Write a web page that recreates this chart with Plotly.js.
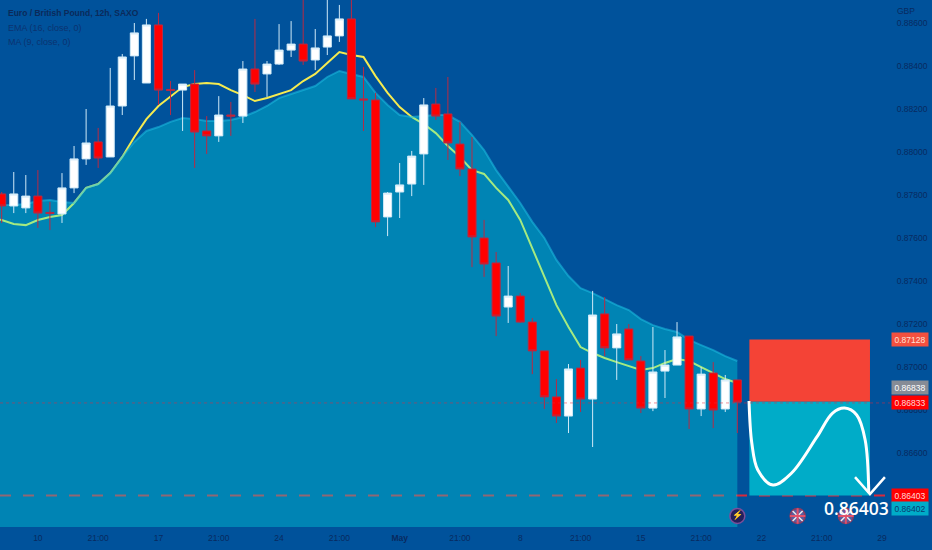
<!DOCTYPE html>
<html>
<head>
<meta charset="utf-8">
<script src="https://cdn.plot.ly/plotly-3.0.1.min.js"></script>
<style>body { margin: 0; background: #00529b; }</style>
</head>
<body>
<div id="chart"></div>
<script>
// 12h bars
var bars = [0,1,2,3,4,5,6,7,8,9,10,11,12,13,14,15,16,17,18,19,20,21,22,23,24,25,26,27,28,29,30,
  31,32,33,34,35,36,37,38,39,40,41,42,43,44,45,46,47,48,49,50,51,52,53,54,55,56,57,58,59,60,61];
var opens = [.87805,.87749,.87740,.87795,.87719,.87712,.87833,.87968,.88047,.87977,
  .88214,.88447,.88321,.88591,.88291,.88288,.88316,.88098,.88075,.88172,
  .88167,.88386,.88363,.88409,.88474,.88502,.88428,.88488,.88540,.88619,
  .88247,.88242,.87698,.87814,.87851,.87991,.88223,.88177,.88037,.87921,
  .87600,.87484,.87279,.87330,.87209,.87075,.86861,.86772,.86995,.86851,
  .87247,.87089,.87177,.87028,.86809,.86981,.87009,.87144,.86805,.86972,
  .86805,.86940];
var closes = [.87749,.87805,.87795,.87716,.87714,.87833,.87968,.88042,.87972,.88214,
  .88442,.88554,.88591,.88288,.88286,.88316,.88093,.88075,.88172,.88167,
  .88386,.88316,.88409,.88474,.88502,.88423,.88484,.88540,.88619,.88247,
  .88242,.87675,.87809,.87847,.87981,.88219,.88167,.88042,.87921,.87605,
  .87479,.87237,.87330,.87209,.87075,.86861,.86772,.86991,.86851,.87242,
  .87089,.87154,.87033,.86809,.86977,.87009,.87140,.86805,.86967,.86800,
  .86940,.86837];
var highs = [.87814,.87907,.87893,.87916,.87768,.87902,.88028,.88200,.88112,.88391,
  .88456,.88600,.88619,.88647,.88330,.88316,.88381,.88167,.88260,.88233,
  .88423,.88619,.88423,.88595,.88609,.88730,.88572,.88721,.88684,.88730,
  .88395,.88275,.87814,.87949,.88005,.88251,.88298,.88349,.88140,.88070,
  .87684,.87535,.87470,.87344,.87228,.87075,.86944,.87014,.87033,.87354,
  .87326,.87200,.87200,.87051,.87186,.87079,.87209,.87144,.87000,.87023,
  .86963,.86940];
var lows = [.87670,.87716,.87716,.87647,.87637,.87670,.87809,.87940,.87926,.87977,
  .88172,.88335,.88321,.88219,.88172,.88098,.87926,.87991,.88047,.88075,
  .88135,.88279,.88256,.88405,.88442,.88405,.88381,.88451,.88512,.88247,
  .88098,.87651,.87609,.87693,.87795,.87847,.88149,.87963,.87888,.87465,
  .87419,.87144,.87205,.87205,.86967,.86805,.86740,.86693,.86791,.86628,
  .87051,.86940,.87033,.86786,.86795,.86856,.87009,.86712,.86772,.86716,
  .86791,.86693];

// yellow line, first value is the bar just off the left edge
var emaValues = [.87693,.87684,.87665,.87660,.87684,.87698,.87707,.87763,.87833,.87851,.87902,
  .87977,.88070,.88153,.88214,.88256,.88302,.88316,.88321,.88316,.88288,
  .88265,.88237,.88251,.88270,.88288,.88330,.88363,.88414,.88465,.88451,
  .88442,.88353,.88275,.88209,.88163,.88130,.88088,.88028,.87977,.87916,
  .87898,.87833,.87777,.87684,.87554,.87423,.87288,.87186,.87093,.87065,
  .87042,.87023,.87005,.86986,.86995,.87019,.87037,.87028,.87000,.86972,
  .86944,.86926];
// top of the filled area
var areaValues = [.87754,.87754,.87754,.87758,.87772,.87777,.87768,.87763,.87833,.87851,.87902,
  .87977,.88047,.88098,.88116,.88140,.88158,.88153,.88144,.88144,.88149,
  .88163,.88186,.88214,.88251,.88270,.88288,.88307,.88349,.88377,.88363,
  .88349,.88275,.88219,.88172,.88163,.88167,.88172,.88172,.88140,.88079,
  .88009,.87916,.87837,.87763,.87675,.87600,.87498,.87423,.87367,.87344,
  .87316,.87288,.87265,.87223,.87195,.87177,.87163,.87126,.87102,.87079,
  .87051,.87028];

// short position drawing
var stopPrice = 0.87128, entryPrice = 0.86838, targetPrice = 0.86403, lastPrice = 0.86833;
var positionStart = 62, positionEnd = 72;
var curveBars = [61.97,62.2,62.7,63.96,65.5,67.6,68.9,69.9,70.9,71.6,71.9];
var curvePrices = [.86842,.86647,.86521,.86451,.86507,.86675,.86786,.86809,.86777,.86661,.86414];
var arrowBars = [70.76,72,73.24];
var arrowPrices = [.86488,.86409,.86488];

// event badges under the candles
var lightningBars = [61], flagBars = [66, 70];
var badgePrice = 0.86307;

var xTickVals = [3,8,13,18,23,28,33,38,43,48,53,58,63,68,73];
var xTickText = ['10','21:00','17','21:00','24','21:00','<b>May</b>','21:00','8','21:00','15','21:00','22','21:00','29'];
var yTicks = [.866,.868,.870,.872,.874,.876,.878,.880,.882,.884,.886];
var xRange = [-0.14, 73.66];
var yRange = [0.86256, 0.88707];

var axisText = '#082a60';
var axisFont = '"Liberation Sans", sans-serif';

function tag(price, text, bg, color, shift) {
  return {
    xref: 'paper', yref: 'y', x: 910 / 890, xanchor: 'center', y: price, yshift: shift || 0,
    text: text, showarrow: false, bgcolor: bg, width: 36, height: 13, borderpad: 0,
    font: {family: axisFont, size: 8.5, color: color}
  };
}
function legendRow(py, text, color, size) {
  return {
    xref: 'paper', yref: 'paper', x: 6 / 890, y: 1 - py / 527, xanchor: 'left', yanchor: 'middle',
    text: text, showarrow: false,
    font: {family: axisFont, size: size, color: color}
  };
}

var data = [
  {
    // under the area on purpose, the fill turns it green
    x: [-1].concat(bars), y: emaValues, type: 'scatter', mode: 'lines',
    line: {color: '#f5eb50', width: 2}
  },
  {
    x: [-1].concat(bars), y: areaValues, type: 'scatter', mode: 'lines', fill: 'tozeroy',
    fillcolor: 'rgba(0, 234, 232, 0.33)',
    line: {color: 'rgba(30, 190, 225, 0.55)', width: 2}
  },
  {
    // overlaid axes, otherwise the scatter fill is painted over the candles
    x: bars, open: opens, high: highs, low: lows, close: closes, type: 'candlestick',
    xaxis: 'x2', yaxis: 'y2',
    whiskerwidth: 0,
    increasing: {line: {color: '#cfe9f7', width: 1}, fillcolor: '#ffffff'},
    decreasing: {line: {color: '#b82a44', width: 1}, fillcolor: '#ff0000'}
  },
  {
    x: curveBars, y: curvePrices, type: 'scatter', mode: 'lines',
    line: {color: '#ffffff', width: 3, shape: 'spline'}
  },
  {
    x: arrowBars, y: arrowPrices, type: 'scatter', mode: 'lines',
    line: {color: '#ffffff', width: 2.5}
  },
  {
    x: lightningBars, y: [badgePrice], type: 'scatter', mode: 'markers+text', text: ['⚡'],
    textposition: 'middle center', textfont: {size: 9, color: '#c060e0'},
    marker: {size: 15, color: '#24205c', line: {color: '#7a4f9a', width: 1.5}}
  },
  {
    x: flagBars, y: [badgePrice, badgePrice], type: 'scatter', mode: 'markers',
    marker: {size: 15, color: '#5a5c9c', line: {color: '#8a3a60', width: 1.5}}
  },
  {
    x: flagBars, y: [badgePrice, badgePrice], type: 'scatter', mode: 'markers',
    marker: {size: 10, symbol: 'x-thin', line: {color: '#e8e8f0', width: 1.5}}
  },
  {
    x: flagBars, y: [badgePrice, badgePrice], type: 'scatter', mode: 'markers',
    marker: {size: 11, symbol: 'cross-thin', line: {color: '#e0506a', width: 2}}
  }
];

var layout = {
  width: 932,
  height: 550,
  showlegend: false,
  paper_bgcolor: '#00529b',
  plot_bgcolor: '#00529b',
  margin: {l: 0, r: 42, t: 0, b: 23, pad: 0},
  boxgap: 0.33,
  boxgroupgap: 0,
  xaxis: {
    range: xRange, showgrid: false, zeroline: false, showline: false,
    tickmode: 'array', tickvals: xTickVals, ticktext: xTickText,
    ticks: 'outside', ticklen: 3, tickcolor: 'rgba(0,0,0,0)',
    tickfont: {family: axisFont, size: 8.5, color: axisText}
  },
  yaxis: {
    range: yRange, side: 'right', showgrid: false, zeroline: false, showline: false,
    tickmode: 'array', tickvals: yTicks, tickformat: '.5f',
    ticks: 'outside', ticklen: 4, tickcolor: 'rgba(0,0,0,0)',
    tickfont: {family: axisFont, size: 8.5, color: axisText}
  },
  xaxis2: {overlaying: 'x', range: xRange, visible: false, rangeslider: {visible: false}},
  yaxis2: {overlaying: 'y', range: yRange, visible: false},
  shapes: [
    {type: 'line', layer: 'below', xref: 'paper', x0: 0, x1: 1, yref: 'y', y0: targetPrice, y1: targetPrice,
      line: {color: '#d8283c', width: 2, dash: '11px,12px'}},
    {type: 'rect', layer: 'below', xref: 'x', yref: 'y', x0: positionStart, x1: positionEnd, y0: entryPrice, y1: stopPrice,
      fillcolor: '#f44336', line: {width: 0}},
    {type: 'rect', layer: 'below', xref: 'x', yref: 'y', x0: positionStart, x1: positionEnd, y0: targetPrice, y1: entryPrice,
      fillcolor: '#00acc8', line: {width: 0}},
    {type: 'line', layer: 'above', xref: 'paper', x0: 0, x1: 1, yref: 'y', y0: lastPrice, y1: lastPrice,
      line: {color: 'rgba(230, 40, 60, 0.5)', width: 1, dash: 'dot'}}
  ],
  annotations: [
    legendRow(13, '<b>Euro / British Pound, 12h, SAXO</b>', '#0b2a5a', 8.5),
    legendRow(28, 'EMA (16, close, 0)', '#0b3270', 9),
    legendRow(42, 'MA (9, close, 0)', '#0b3270', 9),
    {xref: 'paper', yref: 'paper', x: 906 / 890, xanchor: 'center', y: 1 - 11 / 527, yanchor: 'middle', text: 'GBP', showarrow: false,
      font: {family: axisFont, size: 8.5, color: axisText}},
    tag(stopPrice, stopPrice.toFixed(5), '#f4503f', '#ffe0d8'),
    tag(entryPrice, entryPrice.toFixed(5), '#868c96', '#ffffff', 14),
    tag(lastPrice, lastPrice.toFixed(5), '#ff0000', '#ffd8d8'),
    tag(targetPrice, targetPrice.toFixed(5), '#ff0000', '#ffd8d8'),
    tag(0.86402, '0.86402', '#00acc8', '#0a3a70', -13),
    {xref: 'x', yref: 'y', x: 70.9, y: badgePrice, yshift: 8, text: targetPrice.toFixed(5), showarrow: false,
      font: {family: '"Open Sans", sans-serif', size: 17.5, weight: 600, color: '#ffffff'}}
  ]
};

var options = {
  staticPlot: true
};

Plotly.newPlot('chart', data, layout, options);
</script>
</body>
</html>
